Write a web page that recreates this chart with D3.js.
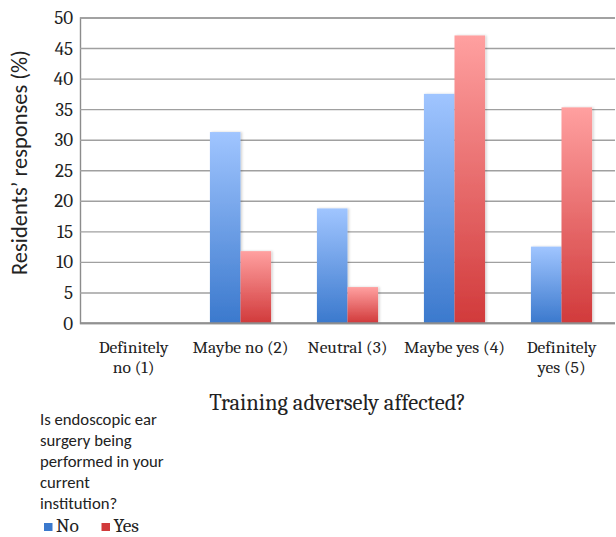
<!DOCTYPE html>
<html>
<head>
<meta charset="utf-8">
<script src="https://cdn.jsdelivr.net/npm/d3@7"></script>
<style>
  html, body { margin: 0; padding: 0; background: #fff; }
  svg { display: block; }
</style>
</head>
<body>
<svg id="chart" width="616" height="537"></svg>
<script>
// Survey responses (%) by category, split by whether the institution performs the surgery
const categories = [["Definitely", "no (1)"], ["Maybe no (2)"], ["Neutral (3)"], ["Maybe yes (4)"], ["Definitely", "yes (5)"]];
const seriesNames = ["No", "Yes"];
const noValues = [0, 31.25, 18.75, 37.5, 12.5];
const yesValues = [0, 11.76, 5.88, 47.06, 35.29];
const yTicks = [0, 5, 10, 15, 20, 25, 30, 35, 40, 45, 50];
const legendTitle = ["Is endoscopic ear", "surgery being", "performed in your", "current", "institution?"];
const xTitle = "Training adversely affected?";
const yTitle = "Residents\u2019 responses (%)";

const svg = d3.select("#chart");
const plotLeft = 80, plotRight = 615, plotTop = 17.5, plotBottom = 323;
const serif = "Cambria, 'Liberation Serif', 'DejaVu Serif', serif";
const sans = "Calibri, Carlito, 'Open Sans', Lato, sans-serif";

const x0 = d3.scaleBand().domain(d3.range(categories.length)).range([plotLeft, plotRight]).paddingInner(0).paddingOuter(0);
const x1 = d3.scaleBand().domain(seriesNames).range([0, x0.bandwidth()]).paddingInner(0).paddingOuter(0.75);
const y = d3.scaleLinear().domain([0, 50]).range([plotBottom, plotTop]);

// Gradients for the bars
const defs = svg.append("defs");
const grads = {
  No: ["#a0c5ff", "#3b79cd"],
  Yes: ["#ffa0a0", "#d13a3b"]
};
Object.entries(grads).forEach(([k, c]) => {
  const g = defs.append("linearGradient").attr("id", "g" + k).attr("x1", 0).attr("y1", 0).attr("x2", 0).attr("y2", 1);
  g.append("stop").attr("offset", "0%").attr("stop-color", c[0]);
  g.append("stop").attr("offset", "100%").attr("stop-color", c[1]);
});
const f = defs.append("filter").attr("id", "shadow").attr("x", "-20%").attr("y", "-5%").attr("width", "150%").attr("height", "115%");
f.append("feDropShadow").attr("dx", 1.5).attr("dy", 0).attr("stdDeviation", 1.2).attr("flood-color", "#000").attr("flood-opacity", 0.18);

// Gridlines and y tick labels
const yAxis = d3.axisLeft(y).tickValues(yTicks).tickSize(-(plotRight - plotLeft)).tickPadding(7);
const ga = svg.append("g").attr("transform", `translate(${plotLeft},0)`).call(yAxis);
ga.select(".domain").attr("stroke", "#8c8c8c").attr("stroke-width", 1.4);
ga.selectAll(".tick line").attr("stroke", "#a0a0a0").attr("stroke-width", 1.4);
ga.selectAll(".tick text").attr("font-family", serif).attr("font-size", 19).attr("fill", "#222");

// Bars
const data = categories.map((c, i) => ({ i, vals: [noValues[i], yesValues[i]] }));
const groups = svg.append("g").selectAll("g").data(data).join("g")
  .attr("transform", d => `translate(${x0(d.i)},0)`);
groups.selectAll("rect").data(d => d.vals.map((v, j) => ({ key: seriesNames[j], v })))
  .join("rect")
  .attr("x", d => x1(d.key))
  .attr("width", x1.bandwidth())
  .attr("y", d => y(d.v))
  .attr("height", d => y(0) - y(d.v))
  .attr("fill", d => `url(#g${d.key})`)
  .attr("filter", "url(#shadow)");

// Bottom axis line
svg.append("line").attr("x1", plotLeft).attr("x2", plotRight).attr("y1", y(0)).attr("y2", y(0))
  .attr("stroke", "#8c8c8c").attr("stroke-width", 1.4);

// Category labels
const xl = svg.append("g");
categories.forEach((lines, i) => {
  const cx = x0(i) + x0.bandwidth() / 2;
  const t = xl.append("text").attr("x", cx).attr("y", 353)
    .attr("text-anchor", "middle").attr("font-family", serif).attr("font-size", 17.5).attr("fill", "#222");
  lines.forEach((l, k) => t.append("tspan").attr("x", cx).attr("dy", k === 0 ? 0 : 20).text(l));
});

// Axis titles
svg.append("text").attr("x", 337.5).attr("y", 410).attr("text-anchor", "middle")
  .attr("font-family", serif).attr("font-size", 22.5).attr("fill", "#222").text(xTitle);
const yt = svg.append("text").attr("transform", "translate(27,162.5) rotate(-90)").attr("text-anchor", "middle")
  .attr("font-family", sans).attr("font-size", 20).attr("fill", "#222").text(yTitle);
// size the rotated title so it spans the plot's upper portion
const ytLen = yt.node().getComputedTextLength();
yt.attr("font-size", 20 * 225 / ytLen);

// Legend
const lg = svg.append("g");
const lt = [];
legendTitle.forEach((l, k) => {
  lt.push(lg.append("text").attr("x", 40).attr("y", 425 + k * 21).attr("font-family", sans)
    .attr("font-size", 15).attr("fill", "#222").text(l));
});
const ltLen = lt[0].node().getComputedTextLength();
lt.forEach(t => t.attr("font-size", 15 * 117 / ltLen));

const legendX = [44, 101.5];
seriesNames.forEach((s, j) => {
  lg.append("rect").attr("x", legendX[j]).attr("y", 523).attr("width", 8.5).attr("height", 8)
    .attr("fill", grads[s][1]);
  lg.append("text").attr("x", legendX[j] + 12).attr("y", 532).attr("font-family", serif)
    .attr("font-size", 19.5).attr("fill", "#222").text(s);
});
</script>
</body>
</html>
